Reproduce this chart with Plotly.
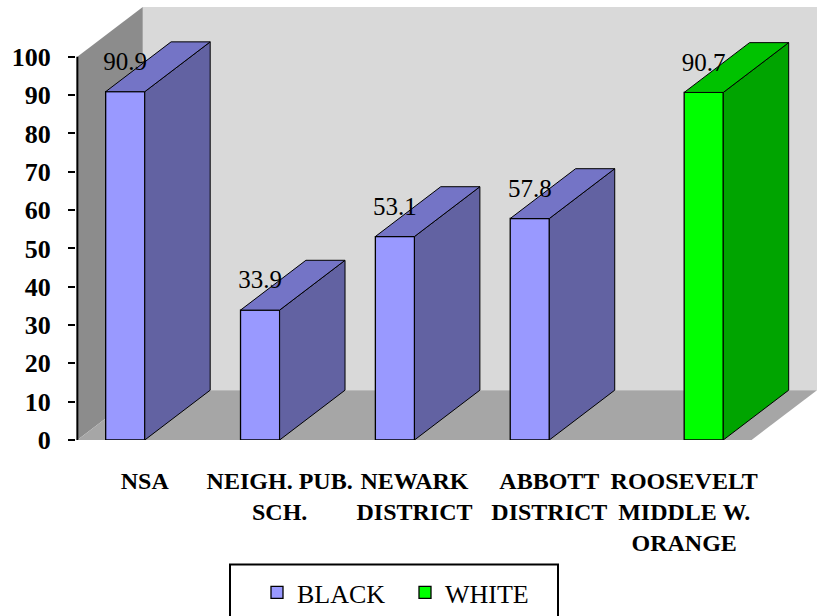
import plotly.graph_objects as go

# ---------------- data ----------------
categories = ["NSA", "NEIGH. PUB.<br>SCH.", "NEWARK<br>DISTRICT",
              "ABBOTT<br>DISTRICT", "ROOSEVELT<br>MIDDLE W.<br>ORANGE"]
black_values = [90.9, 33.9, 53.1, 57.8, None]
white_values = [None, None, None, None, 90.7]
y_ticks = [0, 10, 20, 30, 40, 50, 60, 70, 80, 90, 100]

# ---------------- 3D styling constants ----------------
DX = 0.485      # depth offset in category units
DY = 13.0       # depth offset in value units
BAR_W = 0.29
WALL_TOP = 100
LABEL_LIFT = 7.3
SERIF = "Liberation Serif, Times New Roman, serif"

positions = list(range(len(categories)))
x_left = -0.5
x_right = len(categories) - 0.5

series = [
    dict(name="BLACK", values=black_values, offset=-BAR_W,
         front="#9999ff", side="#6262a2", top="#7474c6"),
    dict(name="WHITE", values=white_values, offset=0.0,
         front="#00ff00", side="#00a400", top="#00c200"),
]

fig = go.Figure()

# front faces (bars, also used for the legend)
for s in series:
    fig.add_trace(go.Bar(
        x=positions, y=s["values"], width=BAR_W, offset=s["offset"],
        name=s["name"],
        marker=dict(color=s["front"], line=dict(color="black", width=1.3)),
        hoverinfo="skip",
    ))

# side and top faces
for s in series:
    sx, sy, tx, ty = [], [], [], []
    for p, v in zip(positions, s["values"]):
        if v is None:
            continue
        xl = p + s["offset"]
        xr = xl + BAR_W
        sx += [xr, xr, xr + DX, xr + DX, xr, None]
        sy += [0, v, v + DY, DY, 0, None]
        tx += [xl, xr, xr + DX, xl + DX, xl, None]
        ty += [v, v, v + DY, v + DY, v, None]
    fig.add_trace(go.Scatter(x=sx, y=sy, mode="lines", fill="toself",
                             fillcolor=s["side"], line=dict(color="black", width=1),
                             showlegend=False, hoverinfo="skip"))
    fig.add_trace(go.Scatter(x=tx, y=ty, mode="lines", fill="toself",
                             fillcolor=s["top"], line=dict(color="black", width=1),
                             showlegend=False, hoverinfo="skip"))

# data labels
for s in series:
    lx, ly, lt = [], [], []
    for p, v in zip(positions, s["values"]):
        if v is None:
            continue
        lx.append(p + s["offset"] + BAR_W / 2)
        ly.append(v + LABEL_LIFT)
        lt.append(f"{v}")
    fig.add_trace(go.Scatter(x=lx, y=ly, text=lt, mode="text",
                             textposition="middle center",
                             textfont=dict(family=SERIF, size=25, color="black"),
                             showlegend=False, hoverinfo="skip", cliponaxis=False))

# value axis line (only up to wall top)
fig.add_trace(go.Scatter(x=[x_left, x_left], y=[0, WALL_TOP], mode="lines",
                         line=dict(color="black", width=2),
                         showlegend=False, hoverinfo="skip"))

# walls and floor
shapes = [
    dict(type="rect", xref="x", yref="y", x0=x_left + DX, x1=x_right + DX,
         y0=DY, y1=WALL_TOP + DY, fillcolor="#d9d9d9", line=dict(width=0), layer="below"),
    dict(type="path", xref="x", yref="y",
         path=f"M {x_left},0 L {x_left},{WALL_TOP} L {x_left + DX},{WALL_TOP + DY} "
              f"L {x_left + DX},{DY} Z",
         fillcolor="#8c8c8c", line=dict(width=0), layer="below"),
    dict(type="path", xref="x", yref="y",
         path=f"M {x_left},0 L {x_right},0 L {x_right + DX},{DY} L {x_left + DX},{DY} Z",
         fillcolor="#a6a6a6", line=dict(width=0), layer="below"),
    # legend frame
    dict(type="rect", xref="paper", yref="paper",
         x0=(230 - 76) / 741, x1=(558 - 76) / 741,
         y0=(442 - 567) / 435, y1=(442 - 660) / 435,
         line=dict(color="black", width=2), fillcolor="rgba(0,0,0,0)"),
]

fig.update_layout(
    width=817, height=616,
    margin=dict(l=76, r=0, t=7, b=174),
    paper_bgcolor="white", plot_bgcolor="white",
    barmode="overlay",
    shapes=shapes,
    showlegend=True,
    legend=dict(orientation="h", x=(257 - 76) / 741, xanchor="left",
                y=(442 - 572) / 435, yanchor="top",
                font=dict(family=SERIF, size=26, color="black"),
                bgcolor="rgba(0,0,0,0)", borderwidth=0, entrywidth=103),
    xaxis=dict(range=[x_left - 0.01, x_right + DX], showgrid=False, zeroline=False,
               showline=False, ticks="", tickvals=positions, ticktext=categories,
               tickfont=dict(family=SERIF, size=24, color="black", weight="bold"),
               ticklabelstandoff=24, fixedrange=True),
    yaxis=dict(range=[0, WALL_TOP + DY], showgrid=False, zeroline=False,
               showline=False, ticks="outside", ticklen=7, tickwidth=2, tickcolor="black",
               tickvals=y_ticks,
               tickfont=dict(family=SERIF, size=26, color="black", weight="bold"),
               ticklabelstandoff=12, fixedrange=True),
)

fig.write_html("out.html")
